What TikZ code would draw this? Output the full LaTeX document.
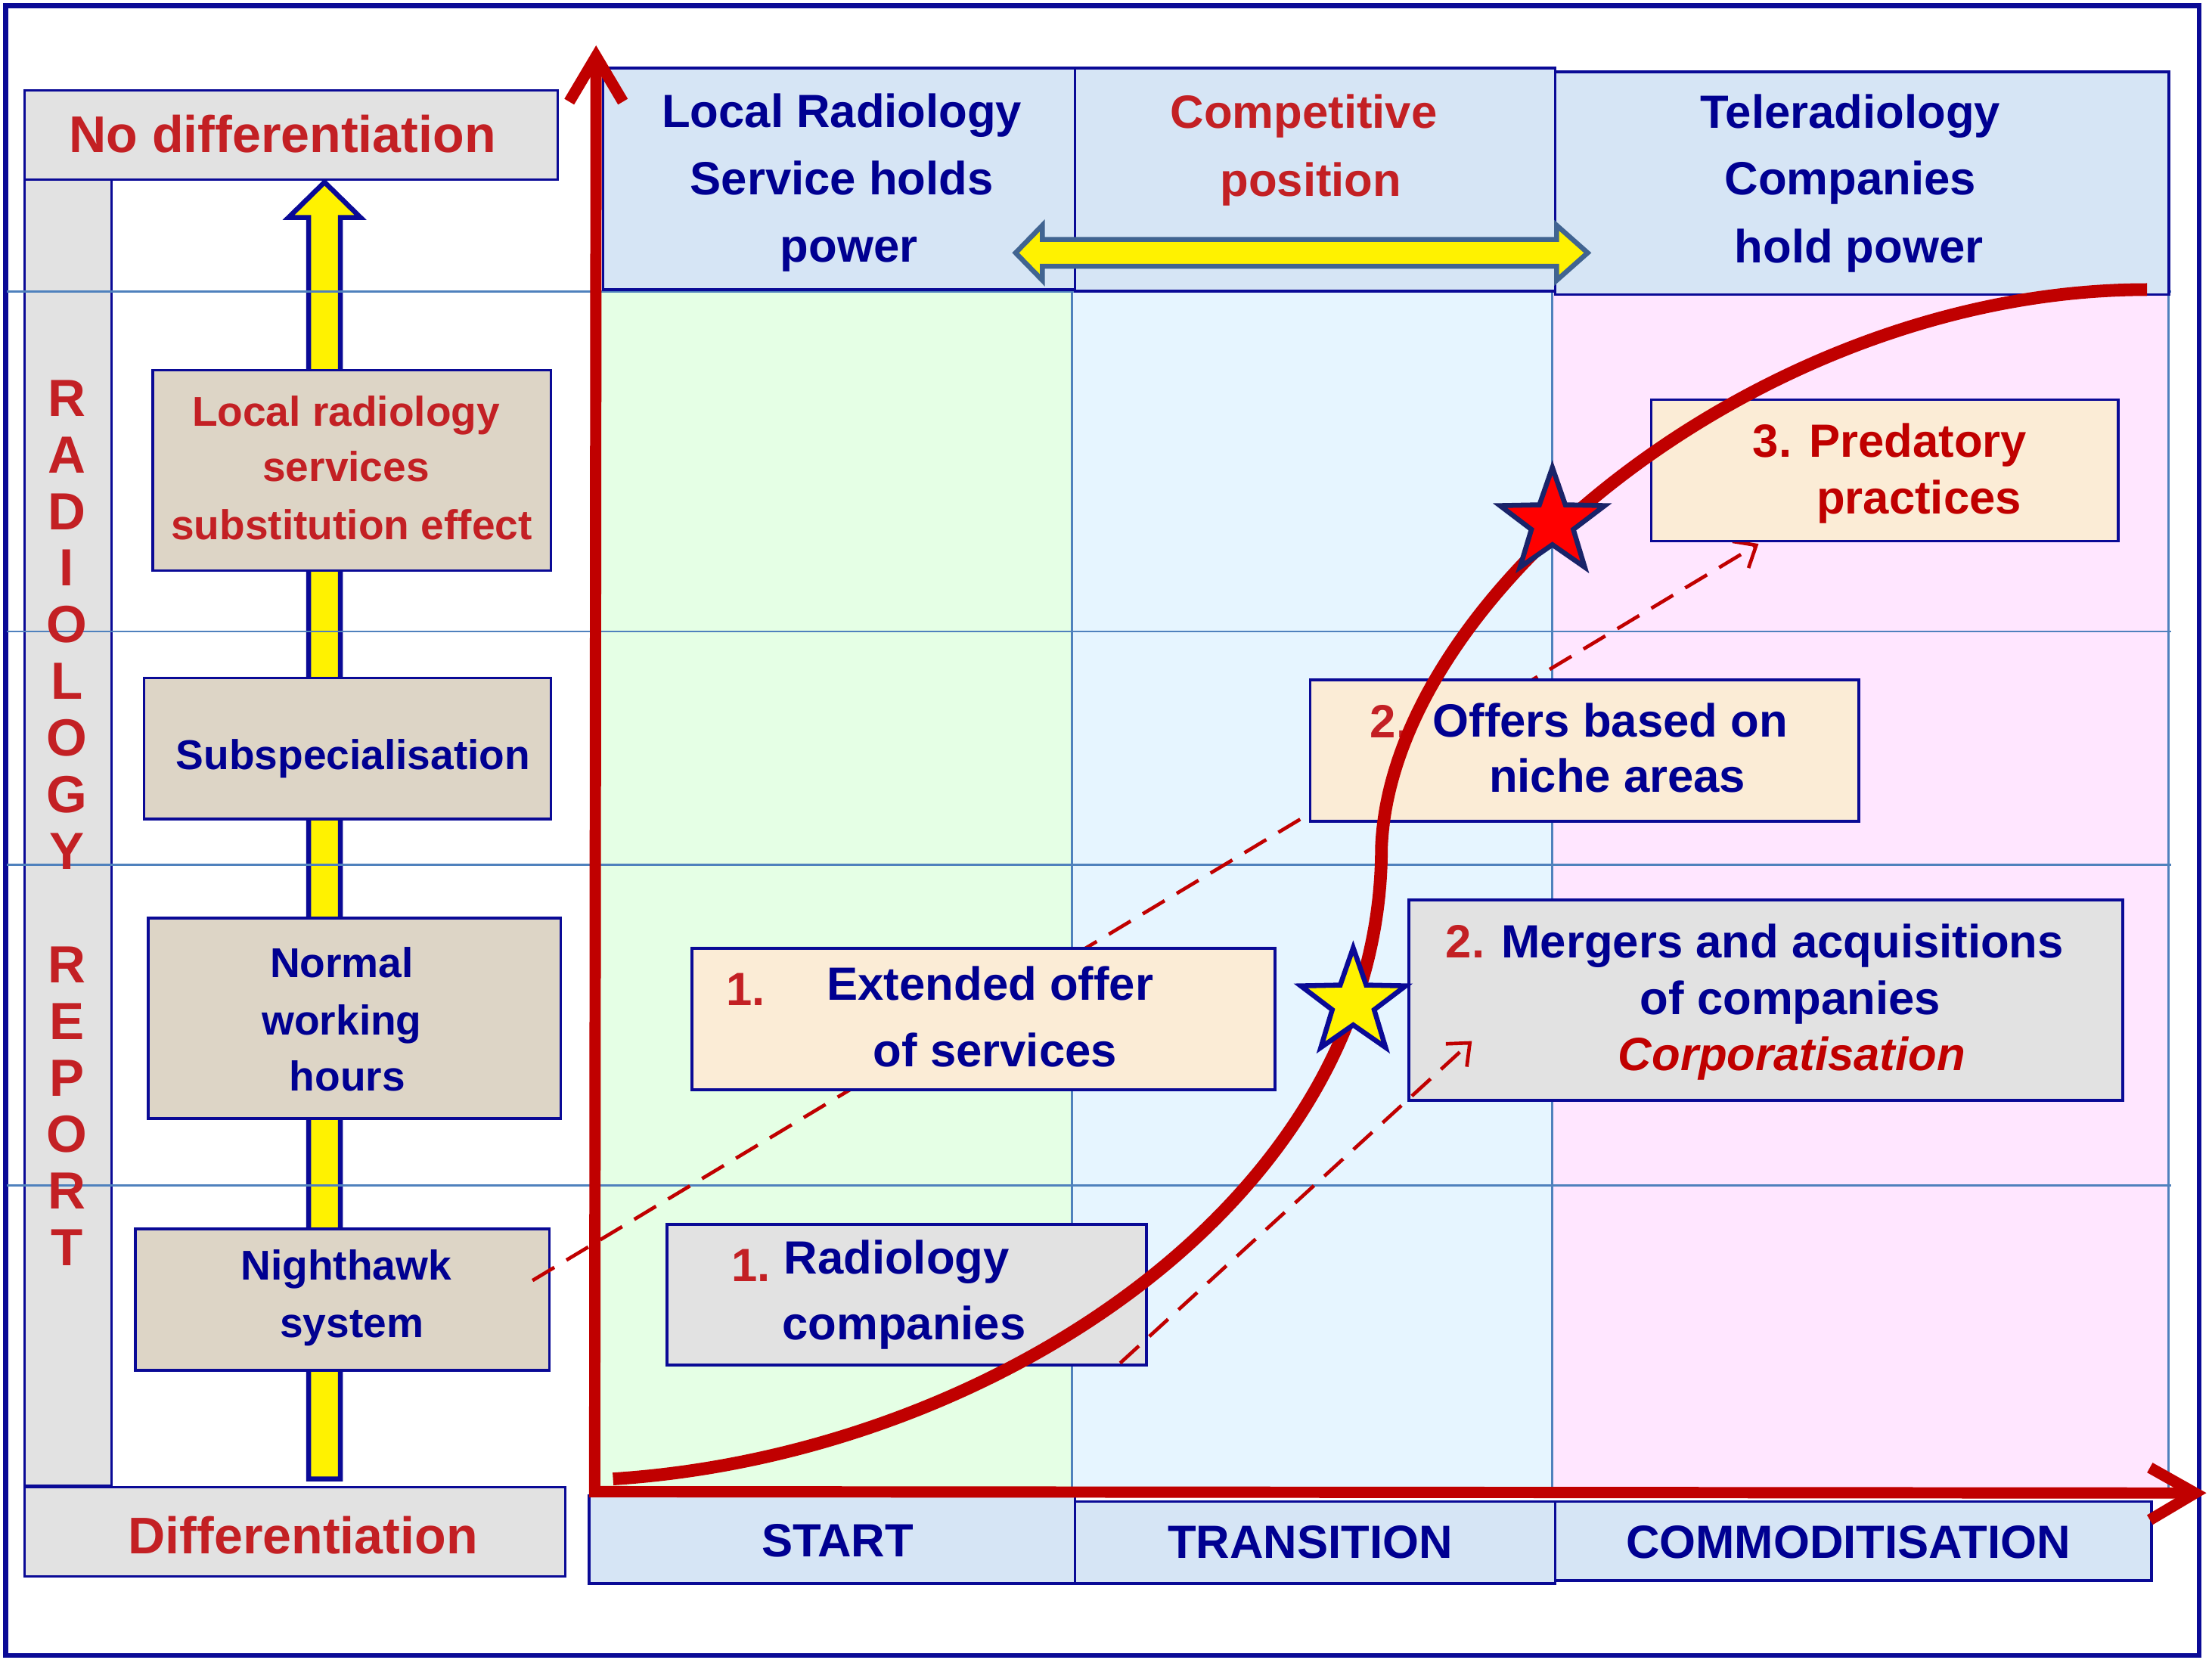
\documentclass[tikz,border=0pt]{standalone}
\usepackage{fontspec}
\setmainfont{Liberation Sans}
\usetikzlibrary{shapes.geometric,arrows.meta,calc}
\definecolor{tblue}{RGB}{0,0,145}
\definecolor{tred}{RGB}{195,32,36}
\definecolor{axisred}{RGB}{192,0,0}
\definecolor{frameblue}{RGB}{10,10,150}
\definecolor{gridblue}{RGB}{79,129,189}
\definecolor{colgreen}{RGB}{229,255,229}
\definecolor{colblue}{RGB}{230,245,255}
\definecolor{colpink}{RGB}{255,230,255}
\definecolor{boxgray}{RGB}{226,226,226}
\definecolor{boxtan}{RGB}{221,213,198}
\definecolor{boxlblue}{RGB}{214,229,245}
\definecolor{boxpeach}{RGB}{251,236,214}
\definecolor{steel}{RGB}{65,100,145}
\definecolor{starnavy}{RGB}{25,35,105}
\newcommand{\fsz}[1]{\fontsize{#1}{#1}\selectfont}
\begin{document}
\begin{tikzpicture}[x=1pt,y=-1pt,
  box/.style={rectangle,inner sep=0pt,outer sep=0pt},
  graybox/.style={box,fill=boxgray,draw=frameblue,line width=1.6pt},
  tanbox/.style={box,fill=boxtan,draw=frameblue,line width=2pt},
  headbox/.style={box,fill=boxlblue,draw=frameblue,line width=2pt},
  peachbox/.style={box,fill=boxpeach,draw=frameblue,line width=2pt},
  chartgray/.style={box,fill=boxgray,draw=frameblue,line width=2.2pt},
  lbl/.style={inner sep=0pt,outer sep=0pt,anchor=base},
  btx/.style={lbl,text=tblue,font=\bfseries\fsz{33}},
  rtx/.style={lbl,text=tred,font=\bfseries\fsz{33}},
  bigred/.style={lbl,text=tred,font=\bfseries\fsz{36.5}},
  leftblue/.style={lbl,text=tblue,font=\bfseries\fsz{29.5}},
  leftred/.style={lbl,text=tred,font=\bfseries\fsz{29.5}},
  vletter/.style={lbl,text=tred,font=\bfseries\fsz{37}},
  grid/.style={draw=gridblue,line width=1.5pt},
  axis/.style={draw=axisred,line width=8pt,line join=miter},
  scurve/.style={draw=axisred,line width=9pt},
  dasharrow/.style={draw=axisred,line width=2.5pt,dash pattern=on 18pt off 10pt,-{Straight Barb[length=13pt,width=22pt]}},
  dashline/.style={draw=axisred,line width=2.5pt,dash pattern=on 18pt off 10pt},
  yarrowV/.style={fill=yellow,draw=frameblue,line width=3.5pt,line join=miter},
  yarrowH/.style={fill=yellow,draw=steel,line width=3.5pt,line join=miter},
  bigstar/.style={star,star points=5,star point ratio=2.5,minimum size=78pt,inner sep=0pt,line width=3.5pt,draw=starnavy}
]
\useasboundingbox (0,0) rectangle (1566,1177);
\fill[white] (0,0) rectangle (1566,1177);
\draw[frameblue,line width=3.5pt] (4,4) rectangle (1557,1172);

% column backgrounds
\fill[colgreen] (425,206) rectangle (759,1056);
\fill[colblue] (759,206) rectangle (1099,1056);
\fill[colpink] (1099,206) rectangle (1535,1056);

% left gray frames
\node[graybox,minimum width=377.5pt,minimum height=63pt] (nodiff) at (206.25,95.5) {};
\node[graybox,minimum width=61.5pt,minimum height=924.5pt] (bar) at (48.25,589.25) {};
\node[graybox,minimum width=382.5pt,minimum height=63pt] (diff) at (208.75,1084.5) {};

% vertical yellow arrow
\coordinate (vbot) at (229.75,1047);
\coordinate (vtip) at (229.75,129);
\draw[yarrowV] ($(vbot)+(-11.25,0)$) -- ($(vtip)+(-11.25,25)$) -- ($(vtip)+(-25.5,25)$) -- (vtip)
  -- ($(vtip)+(25.5,25)$) -- ($(vtip)+(11.25,25)$) -- ($(vbot)+(11.25,0)$) -- cycle;

% grid lines
\draw[grid] (5,206.3) -- (1537,206.3);
\draw[grid] (5,447) -- (1537,447);
\draw[grid] (5,612) -- (1537,612);
\draw[grid] (5,839) -- (1537,839);
\draw[grid] (759,206) -- (759,1056);
\draw[grid] (1099,206) -- (1099,1056);
\draw[grid] (1535,206) -- (1535,1056);

% left tan boxes
\node[tanbox,minimum width=282pt,minimum height=142pt] (lb1) at (249,333) {};
\node[tanbox,minimum width=288pt,minimum height=100pt] (lb2) at (246,530) {};
\node[tanbox,minimum width=292pt,minimum height=142pt] (lb3) at (251,721) {};
\node[tanbox,minimum width=293pt,minimum height=100pt] (lb4) at (242.5,920) {};

% header and bottom boxes
\node[headbox,minimum width=334pt,minimum height=157pt] (h1) at (594,126.5) {};
\node[headbox,minimum width=340pt,minimum height=158pt] (h2) at (931,127) {};
\node[headbox,minimum width=434.5pt,minimum height=157.5pt] (h3) at (1318.25,129.75) {};
\node[headbox,minimum width=344pt,minimum height=62pt] (b1) at (589,1090) {};
\node[headbox,minimum width=340pt,minimum height=58pt] (b2) at (931,1092) {};
\node[headbox,minimum width=422pt,minimum height=56pt] (b3) at (1312,1091) {};

% horizontal yellow double arrow
\coordinate (hl) at (719,179);
\coordinate (hr) at (1124,179);
\draw[yarrowH] (hl) -- ($(hl)+(19,-19.5)$) -- ($(hl)+(19,-9.5)$) -- ($(hr)+(-22,-9.5)$) -- ($(hr)+(-22,-19.5)$)
  -- (hr) -- ($(hr)+(-22,19.5)$) -- ($(hr)+(-22,9.5)$) -- ($(hl)+(19,9.5)$) -- ($(hl)+(19,19.5)$) -- cycle;

% dashed line 1 (under chart boxes)
\coordinate (d1s) at (377,906.5);
\coordinate (d1e) at (1245,385);
\draw[dasharrow] (d1s) -- (d1e);

% chart boxes
\node[peachbox,minimum width=412.6pt,minimum height=100pt] (c1) at (696.3,721.5) {};
\node[chartgray,minimum width=339.7pt,minimum height=99.5pt] (c2) at (641.85,916.75) {};
\node[peachbox,minimum width=388.4pt,minimum height=99.9pt] (c3) at (1121.8,531.45) {};
\node[peachbox,minimum width=330.6pt,minimum height=100pt] (c4) at (1334.3,333) {};
\node[chartgray,minimum width=505.5pt,minimum height=142pt] (c5) at (1250.25,708) {};

% dashed line 2
\coordinate (d2s) at (793,965);
\coordinate (d2e) at (1042,737);
\draw[dasharrow] (d2s) -- (d2e);

% texts left
\node[bigred] (tnodiff) at (200,107.8) {No differentiation};
\node[bigred] (tdiff) at (214.5,1100) {Differentiation};
\foreach \L [count=\i from 0] in {R,A,D,I,O,L,O,G,Y}
  \node[vletter] (vl\i) at (47.4,294.6+40.1*\i) {\L};
\foreach \L [count=\i from 10] in {R,E,P,O,R,T}
  \node[vletter] (vl\i) at (47.4,294.6+40.1*\i) {\L};
\node[leftred] (tl1a) at (245,301.6) {Local radiology};
\node[leftred] (tl1b) at (245,341) {services};
\node[leftred] (tl1c) at (249,382) {substitution effect};
\node[leftblue] (tl2) at (250,545) {Subspecialisation};
\node[leftblue] (tl3a) at (242,692) {Normal};
\node[leftblue] (tl3b) at (242,732.5) {working};
\node[leftblue] (tl3c) at (246,772.5) {hours};
\node[leftblue] (tl4a) at (245,906) {Nighthawk};
\node[leftblue] (tl4b) at (249,946.6) {system};

% header texts
\node[btx] (th1a) at (596,90) {Local Radiology};
\node[btx] (th1b) at (596,138) {Service holds};
\node[btx] (th1c) at (601,185.5) {power};
\node[rtx] (th2a) at (923,91) {Competitive};
\node[rtx] (th2b) at (928,139) {position};
\node[btx] (th3a) at (1310,91) {Teleradiology};
\node[btx] (th3b) at (1310,138) {Companies};
\node[btx] (th3c) at (1316,186) {hold power};

% bottom texts
\node[btx] (tb1) at (593,1102) {START};
\node[btx] (tb2) at (927.5,1103) {TRANSITION};
\node[btx] (tb3) at (1308.5,1103) {COMMODITISATION};

% chart texts
\node[rtx,anchor=base west] (tc1n) at (514,711.8) {1.};
\node[btx] (tc1a) at (701,708) {Extended offer};
\node[btx] (tc1b) at (704.5,755) {of services};
\node[rtx,anchor=base west] (tc2n) at (518,907) {1.};
\node[btx,anchor=base west] (tc2a) at (555,901.6) {Radiology};
\node[btx] (tc2b) at (640,948.5) {companies};
\node[rtx,anchor=base west] (tc3n) at (970,522) {2.};
\node[btx] (tc3a) at (1140,521.5) {Offers based on};
\node[btx] (tc3b) at (1145,560.7) {niche areas};
\node[rtx,anchor=base west,text=axisred] (tc4a) at (1241,323.7) {3. Predatory};
\node[rtx,anchor=base east,text=axisred] (tc4b) at (1431,363.6) {practices};
\node[rtx,anchor=base west] (tc5n) at (1023.6,678) {2.};
\node[btx] (tc5a) at (1262,678) {Mergers and acquisitions};
\node[btx] (tc5b) at (1267.5,718) {of companies};
\node[rtx,font=\bfseries\itshape\fsz{33},text=axisred] (tc5c) at (1268.5,758) {Corporatisation};

% axes
\coordinate (O) at (421,1056);
\coordinate (ytip) at (422,40);
\coordinate (xtip) at (1554,1057);
\draw[axis] (ytip) -- (O) -- (xtip);
\draw[axis] ($(ytip)+(-19,32)$) -- (ytip) -- ($(ytip)+(19,32)$);
\draw[axis] ($(xtip)+(-32,-18)$) -- (xtip) -- ($(xtip)+(-32,19)$);

% S-curve
\coordinate (cs) at (434,1047);
\coordinate (cm) at (978,600);
\coordinate (ce) at (1520,205);
\draw[scurve] (cs) .. controls (700,1030) and (978,850) .. (cm) .. controls (985,420) and (1250,205) .. (ce);

% stars
\node[bigstar,fill=red] (rstar) at (1099,370) {};
\node[bigstar,fill=yellow,draw=frameblue] (ystar) at (958,710) {};
\end{tikzpicture}
\end{document}
